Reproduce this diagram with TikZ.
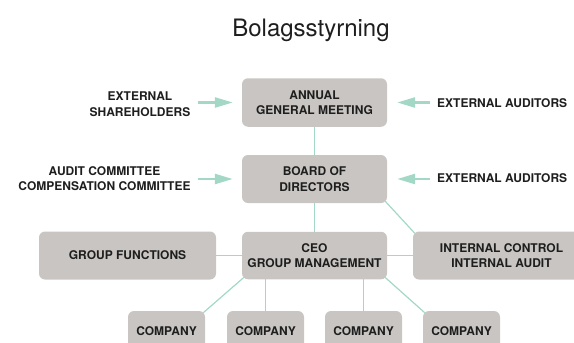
\documentclass[tikz,border=0pt]{standalone}
\usepackage{fontspec}
\setmainfont{TeX Gyre Heros}
\usetikzlibrary{arrows.meta,backgrounds,calc}
\definecolor{boxgray}{HTML}{C9C5C2}
\definecolor{mint}{HTML}{A3D8C6}
\definecolor{ink}{HTML}{1E1E1E}
\newcommand\lblfont{\fontsize{12}{15.5}\selectfont\bfseries}
\tikzset{
  box/.style={fill=boxgray, rounded corners=6pt, align=center, font=\lblfont, text=ink, inner sep=0pt},
  lbl/.style={align=center, font=\lblfont, text=ink, inner sep=0pt},
  conn/.style={draw=mint, line width=1.2pt},
  arr/.style={draw=mint, line width=2.5pt, -{Triangle[length=18pt,width=10pt]}},
}
\begin{document}
\begin{tikzpicture}[x=1pt,y=-1pt]
\useasboundingbox (0,0) rectangle (574,343);
\clip (0,0) rectangle (574,343);
% title
\node[anchor=base, font=\fontsize{24}{28}\selectfont, text=ink, inner sep=0pt] (title) at (311,36.5) {Bolagsstyrning};
% boxes
\node[box, minimum width=145pt, minimum height=48.5pt] (agm) at (314.5,102.5) {ANNUAL\\GENERAL MEETING};
\node[box, minimum width=145pt, minimum height=48pt] (bod) at (314.5,179) {BOARD OF\\DIRECTORS};
\node[box, minimum width=145pt, minimum height=47.5pt] (ceo) at (314.5,255.5) {CEO\\GROUP MANAGEMENT};
\node[box, minimum width=177pt, minimum height=48pt] (gf) at (127.5,255.5) {GROUP FUNCTIONS};
\node[box, minimum width=177pt, minimum height=48pt] (ic) at (501.5,255.5) {INTERNAL CONTROL\\INTERNAL AUDIT};
\node[box, minimum width=77pt, minimum height=40pt] (c1) at (166.5,331) {COMPANY};
\node[box, minimum width=77pt, minimum height=40pt] (c2) at (265.5,331) {COMPANY};
\node[box, minimum width=77pt, minimum height=40pt] (c3) at (363.5,331) {COMPANY};
\node[box, minimum width=77pt, minimum height=40pt] (c4) at (461.5,331) {COMPANY};
% side labels
\node[lbl] (sh) at (140,104) {EXTERNAL\\SHAREHOLDERS};
\node[lbl] (ac) at (104.5,178.5) {AUDIT COMMITTEE\\COMPENSATION COMMITTEE};
\node[lbl, anchor=west] (ea1) at (437,103) {EXTERNAL AUDITORS};
\node[lbl, anchor=west] (ea2) at (437,178.5) {EXTERNAL AUDITORS};
% connectors
\begin{scope}[on background layer]
\draw[conn] (agm.south) -- (bod.north);
\draw[conn] (bod.south) -- (ceo.north);
\draw[conn] (gf.east) -- (ceo.west);
\draw[conn] (ceo.east) -- (ic.west);
\draw[conn] ([shift={(-2,-2)}]bod.south east) -- ([shift={(2,2)}]ic.north west);
\draw[conn] ([shift={(2,-2)}]ceo.south west) -- ([shift={(-2,2)}]c1.north east);
\draw[conn] (ceo.south -| c2.north) -- (c2.north);
\draw[conn] (ceo.south -| c3.north) -- (c3.north);
\draw[conn] ([shift={(-2,-2)}]ceo.south east) -- ([shift={(2,2)}]c4.north west);
\end{scope}
% arrows
\draw[arr] ([xshift=-44pt]agm.west) -- ([xshift=-9pt]agm.west);
\draw[arr] ([xshift=-44pt]bod.west) -- ([xshift=-9pt]bod.west);
\draw[arr] ([xshift=43pt]agm.east) -- ([xshift=10pt]agm.east);
\draw[arr] ([xshift=43pt]bod.east) -- ([xshift=10pt]bod.east);
\end{tikzpicture}
\end{document}
